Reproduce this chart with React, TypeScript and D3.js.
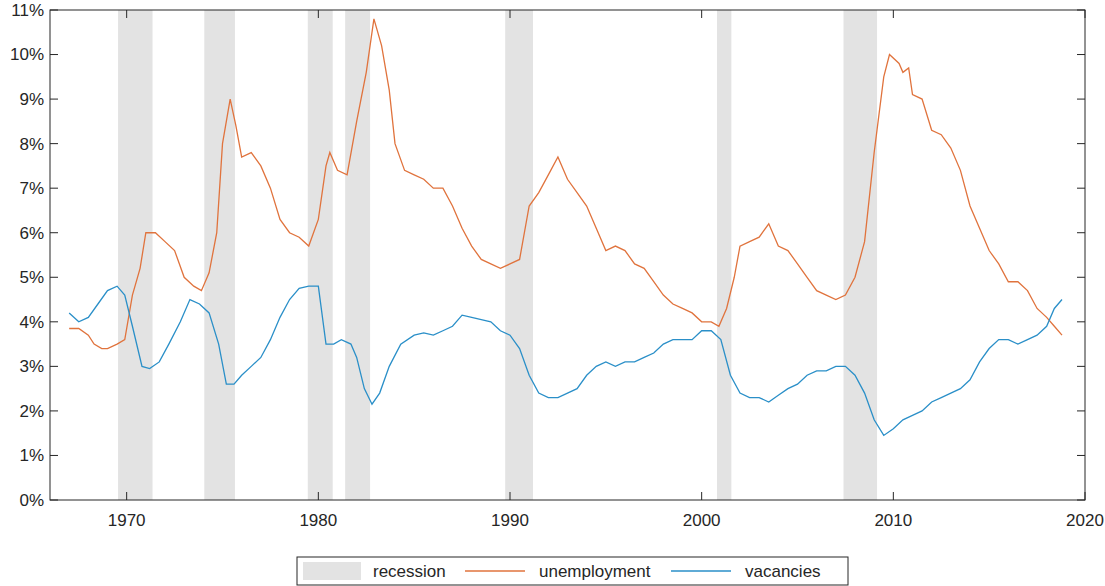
import React from 'react';
import * as d3 from 'd3';

type Pt = [number, number];

const unemployment: Pt[] = [
  [1967.0, 3.85], [1967.5, 3.85], [1968.0, 3.7], [1968.3, 3.5], [1968.7, 3.4], [1969.0, 3.4], [1969.5, 3.5],
  [1969.9, 3.6], [1970.3, 4.6], [1970.7, 5.2], [1971.0, 6.0], [1971.5, 6.0], [1972.0, 5.8], [1972.5, 5.6],
  [1973.0, 5.0], [1973.5, 4.8], [1973.9, 4.7], [1974.3, 5.1], [1974.7, 6.0], [1975.0, 8.0], [1975.4, 9.0],
  [1975.7, 8.4], [1976.0, 7.7], [1976.5, 7.8], [1977.0, 7.5], [1977.5, 7.0], [1978.0, 6.3], [1978.5, 6.0],
  [1979.0, 5.9], [1979.5, 5.7], [1980.0, 6.3], [1980.4, 7.5], [1980.6, 7.8], [1981.0, 7.4], [1981.5, 7.3],
  [1982.0, 8.5], [1982.5, 9.6], [1982.9, 10.8], [1983.3, 10.2], [1983.7, 9.2], [1984.0, 8.0], [1984.5, 7.4],
  [1985.0, 7.3], [1985.5, 7.2], [1986.0, 7.0], [1986.5, 7.0], [1987.0, 6.6], [1987.5, 6.1], [1988.0, 5.7],
  [1988.5, 5.4], [1989.0, 5.3], [1989.5, 5.2], [1990.0, 5.3], [1990.5, 5.4], [1991.0, 6.6], [1991.5, 6.9],
  [1992.0, 7.3], [1992.5, 7.7], [1993.0, 7.2], [1993.5, 6.9], [1994.0, 6.6], [1994.5, 6.1], [1995.0, 5.6],
  [1995.5, 5.7], [1996.0, 5.6], [1996.5, 5.3], [1997.0, 5.2], [1997.5, 4.9], [1998.0, 4.6], [1998.5, 4.4],
  [1999.0, 4.3], [1999.5, 4.2], [2000.0, 4.0], [2000.5, 4.0], [2000.9, 3.9], [2001.3, 4.3], [2001.7, 5.0],
  [2002.0, 5.7], [2002.5, 5.8], [2003.0, 5.9], [2003.5, 6.2], [2004.0, 5.7], [2004.5, 5.6], [2005.0, 5.3],
  [2005.5, 5.0], [2006.0, 4.7], [2006.5, 4.6], [2007.0, 4.5], [2007.5, 4.6], [2008.0, 5.0], [2008.5, 5.8],
  [2009.0, 7.8], [2009.5, 9.5], [2009.8, 10.0], [2010.3, 9.8], [2010.5, 9.6], [2010.8, 9.7], [2011.0, 9.1],
  [2011.5, 9.0], [2012.0, 8.3], [2012.5, 8.2], [2013.0, 7.9], [2013.5, 7.4], [2014.0, 6.6], [2014.5, 6.1],
  [2015.0, 5.6], [2015.5, 5.3], [2016.0, 4.9], [2016.5, 4.9], [2017.0, 4.7], [2017.5, 4.3], [2018.0, 4.1],
  [2018.4, 3.9], [2018.8, 3.7],
];

const vacancies: Pt[] = [
  [1967.0, 4.2], [1967.5, 4.0], [1968.0, 4.1], [1968.5, 4.4], [1969.0, 4.7], [1969.5, 4.8], [1969.9, 4.6],
  [1970.3, 3.9], [1970.8, 3.0], [1971.2, 2.95], [1971.7, 3.1], [1972.2, 3.5], [1972.8, 4.0], [1973.3, 4.5],
  [1973.8, 4.4], [1974.3, 4.2], [1974.8, 3.5], [1975.2, 2.6], [1975.6, 2.6], [1976.0, 2.8], [1976.5, 3.0],
  [1977.0, 3.2], [1977.5, 3.6], [1978.0, 4.1], [1978.5, 4.5], [1979.0, 4.75], [1979.5, 4.8], [1980.0, 4.8],
  [1980.4, 3.5], [1980.8, 3.5], [1981.2, 3.6], [1981.7, 3.5], [1982.0, 3.2], [1982.4, 2.5], [1982.8, 2.15],
  [1983.2, 2.4], [1983.7, 3.0], [1984.3, 3.5], [1985.0, 3.7], [1985.5, 3.75], [1986.0, 3.7], [1986.5, 3.8],
  [1987.0, 3.9], [1987.5, 4.15], [1988.0, 4.1], [1988.5, 4.05], [1989.0, 4.0], [1989.5, 3.8], [1990.0, 3.7],
  [1990.5, 3.4], [1991.0, 2.8], [1991.5, 2.4], [1992.0, 2.3], [1992.5, 2.3], [1993.0, 2.4], [1993.5, 2.5],
  [1994.0, 2.8], [1994.5, 3.0], [1995.0, 3.1], [1995.5, 3.0], [1996.0, 3.1], [1996.5, 3.1], [1997.0, 3.2],
  [1997.5, 3.3], [1998.0, 3.5], [1998.5, 3.6], [1999.0, 3.6], [1999.5, 3.6], [2000.0, 3.8], [2000.5, 3.8],
  [2001.0, 3.6], [2001.5, 2.8], [2002.0, 2.4], [2002.5, 2.3], [2003.0, 2.3], [2003.5, 2.2], [2004.0, 2.35],
  [2004.5, 2.5], [2005.0, 2.6], [2005.5, 2.8], [2006.0, 2.9], [2006.5, 2.9], [2007.0, 3.0], [2007.5, 3.0],
  [2008.0, 2.8], [2008.5, 2.4], [2009.0, 1.8], [2009.5, 1.45], [2010.0, 1.6], [2010.5, 1.8], [2011.0, 1.9],
  [2011.5, 2.0], [2012.0, 2.2], [2012.5, 2.3], [2013.0, 2.4], [2013.5, 2.5], [2014.0, 2.7], [2014.5, 3.1],
  [2015.0, 3.4], [2015.5, 3.6], [2016.0, 3.6], [2016.5, 3.5], [2017.0, 3.6], [2017.5, 3.7], [2018.0, 3.9],
  [2018.4, 4.3], [2018.8, 4.5],
];

const recessions: Pt[] = [
  [1969.55, 1971.35], [1974.05, 1975.65], [1979.45, 1980.75], [1981.4, 1982.7],
  [1989.75, 1991.2], [2000.8, 2001.55], [2007.4, 2009.15],
];

const xTicks = [1970, 1980, 1990, 2000, 2010, 2020];
const yTicks = d3.range(0, 12);

const W = 1105, H = 586;
const m = { left: 50, right: 20, top: 10, bottom: 86 };
const font = 'Liberation Sans, Arial, sans-serif';
const orange = '#e0733d';
const blue = '#2a8fc8';

export default function App() {
  const x = d3.scaleLinear().domain([1966, 2020]).range([m.left, W - m.right]);
  const y = d3.scaleLinear().domain([0, 11]).range([H - m.bottom, m.top]);
  const line = d3.line<Pt>().x((d) => x(d[0])).y((d) => y(d[1]));
  const [x0, x1] = x.range();
  const [y0, y1] = y.range();

  return (
    <svg width={W} height={H} style={{ position: 'absolute', left: 0, top: 0 }} fontFamily={font}>
      {recessions.map(([a, b], i) => (
        <rect key={i} x={x(a)} y={y1} width={x(b) - x(a)} height={y0 - y1} fill="#e3e3e3" />
      ))}
      <path d={line(unemployment) ?? ''} fill="none" stroke={orange} strokeWidth={1.3} />
      <path d={line(vacancies) ?? ''} fill="none" stroke={blue} strokeWidth={1.3} />
      <rect x={x0} y={y1} width={x1 - x0} height={y0 - y1} fill="none" stroke="#262626" strokeWidth={1} />
      {yTicks.map((t) => (
        <g key={t}>
          <line x1={x0} x2={x0 + 8} y1={y(t)} y2={y(t)} stroke="#262626" />
          <line x1={x1} x2={x1 - 8} y1={y(t)} y2={y(t)} stroke="#262626" />
          <text x={x0 - 6} y={y(t)} dy="0.35em" textAnchor="end" fontSize={17} fill="#262626">{t}%</text>
        </g>
      ))}
      {xTicks.map((t) => (
        <g key={t}>
          <line x1={x(t)} x2={x(t)} y1={y0} y2={y0 - 8} stroke="#262626" />
          <line x1={x(t)} x2={x(t)} y1={y1} y2={y1 + 8} stroke="#262626" />
          <text x={x(t)} y={y0 + 26} textAnchor="middle" fontSize={17} fill="#262626">{t}</text>
        </g>
      ))}
      <g transform="translate(297,557)">
        <rect x={0} y={0} width={551} height={28} fill="#fff" stroke="#262626" />
        <rect x={6} y={5} width={58} height={18} fill="#e3e3e3" />
        <text x={76} y={20} fontSize={17} fill="#262626">recession</text>
        <line x1={168} x2={228} y1={14} y2={14} stroke={orange} strokeWidth={1.3} />
        <text x={242} y={20} fontSize={17} fill="#262626">unemployment</text>
        <line x1={374} x2={434} y1={14} y2={14} stroke={blue} strokeWidth={1.3} />
        <text x={448} y={20} fontSize={17} fill="#262626">vacancies</text>
      </g>
    </svg>
  );
}
